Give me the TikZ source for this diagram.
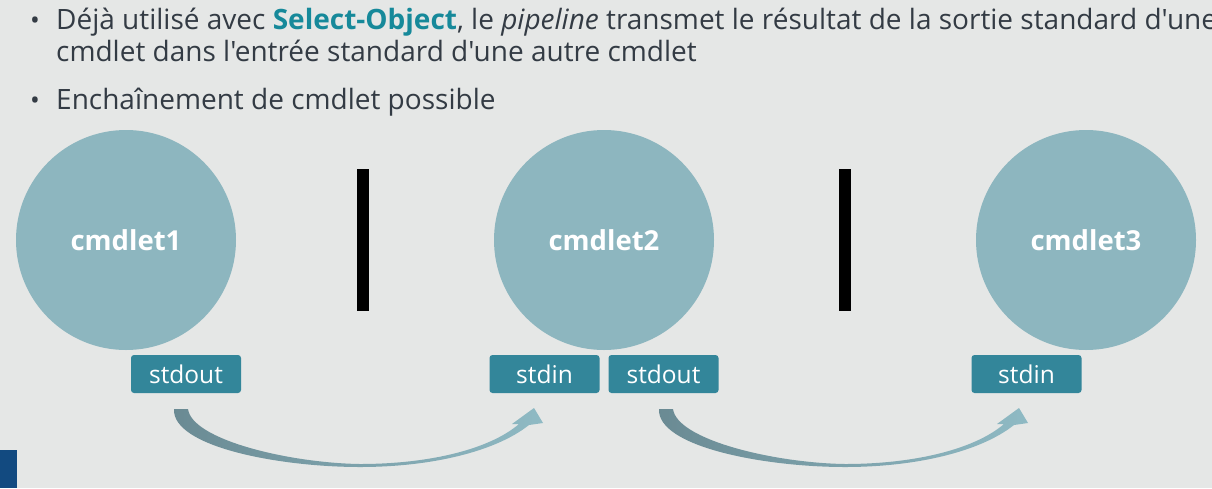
\documentclass[tikz,border=0pt]{standalone}
\usepackage{fontspec}
\setmainfont{Open Sans}[Ligatures=TeXOff]
\definecolor{bg}{HTML}{E5E7E6}
\definecolor{circ}{HTML}{8DB6BF}
\definecolor{boxc}{HTML}{33869A}
\definecolor{txt}{HTML}{333B44}
\definecolor{hl}{HTML}{16899A}
\definecolor{arrdark}{HTML}{6A8A93}
\definecolor{arrlight}{HTML}{8FBAC4}
\definecolor{corner}{HTML}{124A80}
\tikzset{
  cmd/.style={circle, fill=circ, minimum size=220pt, inner sep=0pt, text=white, font=\fontsize{27.5}{32}\selectfont\bfseries},
  iobox/.style={rectangle, rounded corners=3pt, fill=boxc, minimum width=110pt, minimum height=38pt, inner sep=0pt, text=white, font=\fontsize{24.5}{28}\selectfont},
  pipebar/.style={fill=black, minimum width=12pt, minimum height=142pt, inner sep=0pt},
  bullettext/.style={anchor=base west, inner sep=0pt, text=txt, font=\fontsize{28}{32}\selectfont, align=left},
  bul/.style={anchor=base, inner sep=0pt, text=txt, font=\fontsize{26}{32}\selectfont}
}
\begin{document}
\begin{tikzpicture}[x=1pt,y=-1pt]
\useasboundingbox (0,0) rectangle (1212,488);
\fill[bg] (0,0) rectangle (1212,488);
\clip (0,0) rectangle (1212,488);
\fill[corner] (0,450) rectangle (17,488);
% text
\node[bul] (b1) at (35,29) {•};
\node[bullettext] (t1) at (56,29) {Déjà utilisé avec \textcolor{hl}{\textbf{Select-Object}}, le \textit{pipeline} transmet le résultat de la sortie standard d'une};
\node[bullettext] (t2) at (56,61) {cmdlet dans l'entrée standard d'une autre cmdlet};
\node[bul] (b2) at (35,109) {•};
\node[bullettext] (t3) at (56,109) {Enchaînement de cmdlet possible};
% circles
\node[cmd] (c1) at (126,240) {cmdlet1};
\node[cmd] (c2) at (604,240) {cmdlet2};
\node[cmd] (c3) at (1086,240) {cmdlet3};
\node[pipebar] (p1) at (363,240) {};
\node[pipebar] (p2) at (844.5,240) {};
\node[iobox] (o1) at (186,374) {stdout};
\node[iobox] (i2) at (544.5,374) {stdin};
\node[iobox] (o2) at (663.5,374) {stdout};
\node[iobox] (i3) at (1026.5,374) {stdin};
% arrows
\foreach \dx in {0,485}{
\begin{scope}[xshift=\dx pt]
\shade[left color=arrdark, right color=arrlight]
 (174,409) -- (188,409)
 .. controls (192,440) and (290,463) .. (360,464)
 .. controls (430,464) and (490,449) .. (519,424)
 -- (512,424) -- (534,408) -- (543,423) -- (529,425)
 .. controls (495,452) and (430,467) .. (360,467)
 .. controls (280,467) and (172,447) .. (174,409) -- cycle;
\end{scope}}
\end{tikzpicture}
\end{document}
